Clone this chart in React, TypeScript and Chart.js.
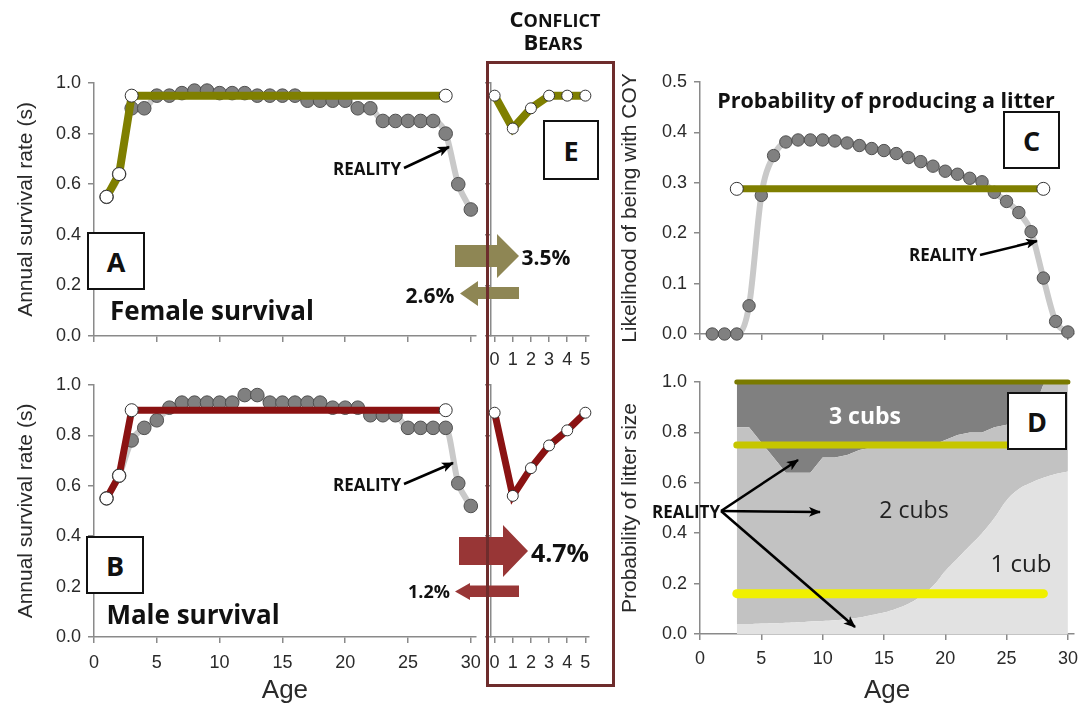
import React, { useEffect, useRef } from "react";
import { Chart, registerables } from "chart.js";

Chart.register(...registerables);

// ---------------- data ----------------
const ages = [1, 2, 3, 4, 5, 6, 7, 8, 9, 10, 11, 12, 13, 14, 15, 16, 17, 18, 19, 20, 21, 22, 23, 24, 25, 26, 27, 28, 29, 30];
const femaleReality = [0.55, 0.64, 0.9, 0.9, 0.95, 0.95, 0.96, 0.97, 0.97, 0.96, 0.96, 0.96, 0.95, 0.95, 0.95, 0.95, 0.93, 0.93, 0.93, 0.93, 0.9, 0.9, 0.85, 0.85, 0.85, 0.85, 0.85, 0.8, 0.6, 0.5];
const maleReality = [0.55, 0.64, 0.78, 0.83, 0.86, 0.91, 0.93, 0.93, 0.93, 0.93, 0.93, 0.96, 0.96, 0.93, 0.93, 0.93, 0.93, 0.93, 0.91, 0.91, 0.91, 0.88, 0.88, 0.88, 0.83, 0.83, 0.83, 0.83, 0.61, 0.52];
const modelAges = [1, 2, 3, 28];
const femaleModel = [0.55, 0.64, 0.95, 0.95];
const maleModel = [0.55, 0.64, 0.9, 0.9];

const conflictAges = [0, 1, 2, 3, 4, 5];
const conflictFemale = [0.95, 0.82, 0.9, 0.95, 0.95, 0.95];
const conflictMale = [0.89, 0.56, 0.67, 0.76, 0.82, 0.89];

const coyReality = [0, 0, 0, 0.056, 0.275, 0.354, 0.381, 0.385, 0.385, 0.385, 0.383, 0.379, 0.374, 0.368, 0.364, 0.358, 0.35, 0.342, 0.333, 0.323, 0.317, 0.309, 0.302, 0.281, 0.263, 0.241, 0.203, 0.111, 0.025, 0.004];
const coyModelAges = [3, 28];
const coyModel = [0.288, 0.288];

const litterAges = [3, 4, 5, 6, 7, 8, 9, 10, 11, 12, 13, 14, 15, 16, 17, 18, 19, 20, 21, 22, 23, 24, 25, 26, 27, 28, 29, 30];
const oneCubCum = [0.04, 0.04, 0.042, 0.043, 0.045, 0.047, 0.05, 0.052, 0.055, 0.06, 0.065, 0.075, 0.085, 0.1, 0.12, 0.15, 0.19, 0.25, 0.3, 0.35, 0.4, 0.46, 0.53, 0.575, 0.6, 0.62, 0.635, 0.645];
const twoCubCum = [0.82, 0.82, 0.76, 0.7, 0.64, 0.64, 0.64, 0.7, 0.7, 0.71, 0.73, 0.74, 0.74, 0.75, 0.75, 0.75, 0.75, 0.77, 0.79, 0.8, 0.8, 0.82, 0.83, 0.84, 0.86, 0.99, 1.0, 1.0];
const threeCubCum = [1, 1, 1, 1, 1, 1, 1, 1, 1, 1, 1, 1, 1, 1, 1, 1, 1, 1, 1, 1, 1, 1, 1, 1, 1, 1, 1, 1];
const modelLineAges = [3, 28];
const modelTopAges = [3, 30];
const modelOneCub = [0.16, 0.16];
const modelTwoCubs = [0.75, 0.75];
const modelThreeCubs = [1, 1];

// ---------------- styling ----------------
const AXIS_FONT = "'Liberation Sans', Arial, sans-serif";
const LABEL_FONT = "'Open Sans', 'Liberation Sans', sans-serif";
const AXIS_COLOR = "#8a8a8a";
const TEXT_COLOR = "#2a2a2a";
const OLIVE = "#7f7f00";
const DARK_RED = "#8a1212";
const REAL_LINE = "#c9c9c9";
const REAL_DOT = "#808080";

const pts = (xs: number[], ys: number[]) => xs.map((x, i) => ({ x, y: ys[i] }));

function xAxis(o: { min: number; max: number; step: number; height: number; labels: boolean; pad: number; title?: string }) {
  return {
    type: "linear",
    position: "bottom",
    min: o.min,
    max: o.max,
    ticks: {
      stepSize: o.step,
      includeBounds: false,
      autoSkip: false,
      maxRotation: 0,
      color: o.labels ? TEXT_COLOR : "transparent",
      padding: o.pad,
      font: { family: AXIS_FONT, size: 18 },
    },
    grid: { drawOnChartArea: false, drawTicks: true, tickLength: 6, color: AXIS_COLOR, lineWidth: 1.5 },
    border: { display: true, color: AXIS_COLOR, width: 1.5 },
    title: o.title
      ? { display: true, text: o.title, color: TEXT_COLOR, font: { family: AXIS_FONT, size: 26 }, padding: { top: 0, bottom: 10 } }
      : { display: false },
    afterFit: (s: any) => {
      s.height = o.height;
    },
  };
}

function yAxis(o: { min: number; max: number; step: number; width: number; labels: boolean; title?: string; titlePad?: number }) {
  return {
    type: "linear",
    min: o.min,
    max: o.max,
    ticks: {
      stepSize: o.step,
      color: o.labels ? TEXT_COLOR : "transparent",
      padding: 7,
      font: { family: AXIS_FONT, size: 18 },
      callback: (v: any) => Number(v).toFixed(1),
    },
    grid: { drawOnChartArea: false, drawTicks: true, tickLength: 6, color: AXIS_COLOR, lineWidth: 1.5 },
    border: { display: true, color: AXIS_COLOR, width: 1.5 },
    title: o.title
      ? { display: true, text: o.title, color: TEXT_COLOR, font: { family: AXIS_FONT, size: 21 }, padding: { top: o.titlePad || 0, bottom: 0 } }
      : { display: false },
    afterFit: (s: any) => {
      s.width = o.width;
    },
  };
}

function baseOptions(padding: any, scales: any) {
  return {
    responsive: false,
    maintainAspectRatio: false,
    animation: false,
    events: [],
    layout: { padding },
    plugins: { legend: { display: false }, tooltip: { enabled: false } },
    scales,
  };
}

function realityDataset(xs: number[], ys: number[], r: number) {
  return {
    data: pts(xs, ys),
    borderColor: REAL_LINE,
    borderWidth: 6,
    cubicInterpolationMode: "monotone",
    pointRadius: r,
    pointBackgroundColor: REAL_DOT,
    pointBorderColor: "#505050",
    pointBorderWidth: 1,
    order: 2,
    clip: false,
  };
}

function modelDataset(xs: number[], ys: number[], color: string, width: number, r: number) {
  return {
    data: pts(xs, ys),
    borderColor: color,
    borderWidth: width,
    tension: 0,
    pointRadius: r,
    pointBackgroundColor: "#ffffff",
    pointBorderColor: "#333333",
    pointBorderWidth: 1,
    order: 1,
    clip: false,
  };
}

function survivalConfig(reality: number[], model: number[], color: string, width: number, bottom: boolean) {
  return {
    type: "line",
    data: { datasets: [realityDataset(ages, reality, 6.8), modelDataset(modelAges, model, color, width, 6.5)] },
    options: baseOptions(
      { top: bottom ? 25 : 23, right: 13, left: 0, bottom: 0 },
      {
        x: xAxis({ min: 0, max: 30.4, step: 5, height: bottom ? 79 : 24, labels: bottom, pad: 9, title: bottom ? "Age" : undefined }),
        y: yAxis({ min: 0, max: 1, step: 0.2, width: 94, labels: true, title: "Annual survival rate (s)", titlePad: 14 }),
      }
    ),
  };
}

function conflictConfig(values: number[], color: string, width: number, bottom: boolean) {
  return {
    type: "line",
    data: { datasets: [modelDataset(conflictAges, values, color, width, 5.5)] },
    options: baseOptions(
      { top: bottom ? 25 : 23, right: 21, left: 0, bottom: 0 },
      {
        x: xAxis({ min: -0.2, max: 5.2, step: 1, height: bottom ? 79 : 44, labels: true, pad: bottom ? 9 : 7 }),
        y: yAxis({ min: 0, max: 1, step: 0.2, width: 11, labels: false }),
      }
    ),
  };
}

function coyConfig() {
  return {
    type: "line",
    data: { datasets: [realityDataset(ages, coyReality, 6.2), modelDataset(coyModelAges, coyModel, OLIVE, 7, 6.5)] },
    options: baseOptions(
      { top: 22, right: 5, left: 0, bottom: 0 },
      {
        x: xAxis({ min: 0, max: 30.5, step: 5, height: 26, labels: false, pad: 8 }),
        y: yAxis({ min: 0, max: 0.5, step: 0.1, width: 90, labels: true, title: "Likelihood of being with COY", titlePad: 8 }),
      }
    ),
  };
}

function litterConfig() {
  const area = (ys: number[], color: string, fill: any, tension: number) => ({
    data: pts(litterAges, ys),
    backgroundColor: color,
    borderWidth: 0,
    borderColor: color,
    pointRadius: 0,
    tension,
    fill,
    order: 2,
  });
  const line = (xs: number[], ys: number[], color: string, width: number) => ({
    data: pts(xs, ys),
    borderColor: color,
    borderWidth: width,
    borderCapStyle: "round",
    pointRadius: 0,
    fill: false,
    order: 1,
    clip: false,
  });
  return {
    type: "line",
    data: {
      datasets: [
        area(oneCubCum, "#e2e2e2", "origin", 0.4),
        area(twoCubCum, "#c2c2c2", "-1", 0),
        area(threeCubCum, "#808080", "-1", 0),
        line(modelTopAges, modelThreeCubs, "#7a7a00", 5),
        line(modelLineAges, modelTwoCubs, "#c6c600", 7),
        line(modelLineAges, modelOneCub, "#f0f000", 9),
      ],
    },
    options: baseOptions(
      { top: 22, right: 5, left: 0, bottom: 0 },
      {
        x: xAxis({ min: 0, max: 30.5, step: 5, height: 82, labels: true, pad: 8, title: "Age" }),
        y: yAxis({ min: 0, max: 1, step: 0.2, width: 90, labels: true, title: "Probability of litter size", titlePad: 8 }),
      }
    ),
  };
}

// ---------------- components ----------------
function ChartCanvas(props: { left: number; top: number; width: number; height: number; make: () => any }) {
  const ref = useRef<HTMLCanvasElement | null>(null);
  useEffect(() => {
    if (!ref.current) return;
    const chart = new Chart(ref.current, props.make());
    return () => chart.destroy();
  }, []);
  return (
    <canvas
      ref={ref}
      width={props.width}
      height={props.height}
      style={{ position: "absolute", left: props.left, top: props.top, width: props.width, height: props.height }}
    />
  );
}

function Txt(props: { x: number; y: number; size: number; bold?: boolean; color?: string; children: any; style?: any }) {
  return (
    <div
      style={{
        position: "absolute",
        left: props.x,
        top: props.y,
        transform: "translate(-50%, -50%)",
        whiteSpace: "nowrap",
        fontFamily: LABEL_FONT,
        fontSize: props.size,
        fontWeight: props.bold ? 700 : 400,
        lineHeight: 1,
        color: props.color || "#111",
        ...(props.style || {}),
      }}
    >
      {props.children}
    </div>
  );
}

function LetterBox(props: { left: number; top: number; w: number; h: number; letter: string }) {
  return (
    <div
      style={{
        position: "absolute",
        left: props.left,
        top: props.top,
        width: props.w,
        height: props.h,
        boxSizing: "border-box",
        border: "2px solid #111",
        background: "#fff",
        display: "flex",
        alignItems: "center",
        justifyContent: "center",
        fontFamily: LABEL_FONT,
        fontWeight: 700,
        fontSize: 27,
        color: "#111",
      }}
    >
      {props.letter}
    </div>
  );
}

function SmallCaps(props: { x: number; y: number; first: string; rest: string }) {
  return (
    <Txt x={props.x} y={props.y} size={22} bold>
      <span style={{ fontSize: 22 }}>{props.first}</span>
      <span style={{ fontSize: 18 }}>{props.rest}</span>
    </Txt>
  );
}

export default function App() {
  const femaleArrow = "#8e8654";
  const maleArrow = "#983636";
  return (
    <div style={{ position: "absolute", left: 0, top: 0, width: 1086, height: 716, background: "#fff", overflow: "hidden" }}>
      <ChartCanvas left={0} top={60} width={490} height={300} make={() => survivalConfig(femaleReality, femaleModel, OLIVE, 8, false)} />
      <ChartCanvas left={0} top={360} width={490} height={356} make={() => survivalConfig(maleReality, maleModel, DARK_RED, 7, true)} />
      <ChartCanvas left={480} top={60} width={130} height={320} make={() => conflictConfig(conflictFemale, OLIVE, 8, false)} />
      <ChartCanvas left={480} top={360} width={130} height={356} make={() => conflictConfig(conflictMale, DARK_RED, 7, true)} />
      <ChartCanvas left={610} top={60} width={476} height={300} make={coyConfig} />
      <ChartCanvas left={610} top={360} width={476} height={356} make={litterConfig} />

      <svg width={1086} height={716} style={{ position: "absolute", left: 0, top: 0, pointerEvents: "none" }}>
        <defs>
          <marker id="ah" markerWidth="12" markerHeight="10" refX="11" refY="5" orient="auto" markerUnits="userSpaceOnUse">
            <path d="M0,0 L12,5 L0,10 L3,5 z" fill="#000" />
          </marker>
        </defs>
        <polygon points="455,245 497,245 497,234 519,256 497,278 497,267 455,267" fill={femaleArrow} />
        <polygon points="519,287 478,287 478,281 460,293.5 478,306 478,299 519,299" fill={femaleArrow} />
        <polygon points="459,537 503,537 503,525 528,551 503,577 503,565 459,565" fill={maleArrow} />
        <polygon points="519,585.5 470,585.5 470,583 455,591.5 470,600 470,597 519,597" fill={maleArrow} />
        <g stroke="#000" strokeWidth={2.5} markerEnd="url(#ah)">
          <line x1={404} y1={168} x2={449} y2={147} />
          <line x1={404} y1={484} x2={453} y2={463} />
          <line x1={980} y1={255} x2={1037} y2={241} />
          <line x1={721} y1={511} x2={798} y2={460} />
          <line x1={721} y1={511} x2={820} y2={512} />
          <line x1={721} y1={511} x2={855} y2={627} />
        </g>
      </svg>

      <div
        style={{
          position: "absolute",
          left: 486,
          top: 61,
          width: 129,
          height: 626,
          boxSizing: "border-box",
          border: "3px solid #6e2c2c",
        }}
      />

      <SmallCaps x={555} y={18} first="C" rest="ONFLICT" />
      <SmallCaps x={553} y={41} first="B" rest="EARS" />

      <Txt x={546} y={257} size={21} bold>3.5%</Txt>
      <Txt x={430} y={295} size={21} bold>2.6%</Txt>
      <Txt x={560} y={552} size={25} bold>4.7%</Txt>
      <Txt x={429} y={591} size={18} bold>1.2%</Txt>

      <Txt x={212} y={310} size={26} bold>Female survival</Txt>
      <Txt x={193} y={614} size={26} bold>Male survival</Txt>

      <Txt x={367} y={168} size={17} bold>REALITY</Txt>
      <Txt x={367} y={484} size={17} bold>REALITY</Txt>
      <Txt x={943} y={254} size={17} bold>REALITY</Txt>
      <Txt x={686} y={511} size={17} bold>REALITY</Txt>

      <Txt x={886} y={100} size={21.5} bold>Probability of producing a litter</Txt>

      <Txt x={865} y={415} size={23} bold color="#ffffff">3 cubs</Txt>
      <Txt x={914} y={509} size={23} color="#222">2 cubs</Txt>
      <Txt x={1021} y={563} size={24} color="#222">1 cub</Txt>

      <LetterBox left={87} top={232} w={58} h={58} letter="A" />
      <LetterBox left={86} top={536} w={58} h={58} letter="B" />
      <LetterBox left={543} top={120} w={56} h={60} letter="E" />
      <LetterBox left={1003} top={111} w={57} h={58} letter="C" />
      <LetterBox left={1007} top={392} w={60} h={58} letter="D" />
    </div>
  );
}
